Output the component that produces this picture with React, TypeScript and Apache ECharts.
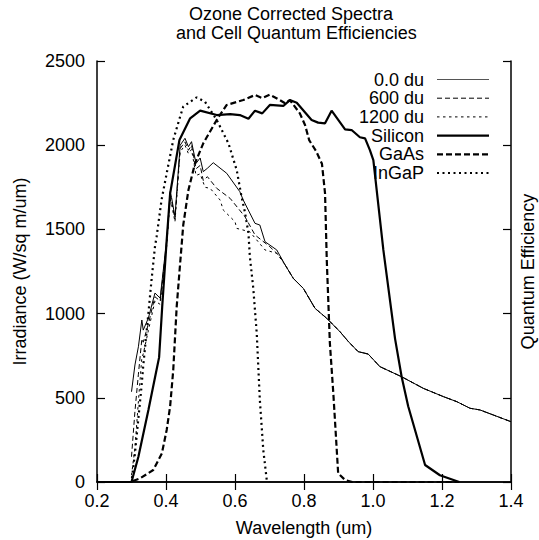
import React, { useEffect, useRef } from "react";
import * as echarts from "echarts";

// ---- Data ----
const seriesNames = ["0.0 du", "600 du", "1200 du", "Silicon", "GaAs", "InGaP"];

const du0Wave = [0.3, 0.31, 0.32, 0.33, 0.334, 0.349, 0.368, 0.383, 0.402, 0.412, 0.416, 0.426, 0.441, 0.455, 0.465, 0.474, 0.487, 0.499, 0.508, 0.52, 0.537, 0.576, 0.614, 0.624, 0.658, 0.672, 0.687, 0.721, 0.745, 0.769, 0.798, 0.832, 0.866, 0.904, 0.929, 0.957, 0.986, 1.02, 1.083, 1.146, 1.204, 1.243, 1.281, 1.31, 1.4];
const du0Irr = [536, 695, 803, 962, 902, 974, 1122, 1092, 1437, 1724, 1690, 1575, 2000, 2041, 1991, 2021, 1892, 1924, 1843, 1863, 1896, 1833, 1724, 1674, 1536, 1526, 1427, 1378, 1290, 1209, 1150, 1031, 972, 893, 833, 774, 760, 685, 625, 556, 507, 477, 438, 428, 358];

const du600Wave = [0.3, 0.31, 0.32, 0.33, 0.334, 0.349, 0.368, 0.383, 0.402, 0.412, 0.416, 0.426, 0.441, 0.455, 0.465, 0.474, 0.487, 0.499, 0.508, 0.52, 0.547, 0.586, 0.629, 0.658, 0.701, 0.73, 0.745, 0.769, 0.798, 0.832, 0.866, 0.904, 0.929, 0.957, 0.986, 1.02, 1.083, 1.146, 1.204, 1.243, 1.281, 1.31, 1.4];
const du600Irr = [150, 420, 640, 850, 830, 940, 1100, 1075, 1420, 1700, 1670, 1560, 1980, 2020, 1970, 2000, 1860, 1880, 1790, 1813, 1744, 1684, 1575, 1467, 1397, 1340, 1290, 1209, 1150, 1031, 972, 893, 833, 774, 760, 685, 625, 556, 507, 477, 438, 428, 358];

const du1200Wave = [0.3, 0.31, 0.32, 0.33, 0.334, 0.349, 0.368, 0.383, 0.402, 0.412, 0.416, 0.426, 0.441, 0.455, 0.465, 0.474, 0.487, 0.499, 0.513, 0.528, 0.557, 0.566, 0.6, 0.605, 0.643, 0.687, 0.721, 0.745, 0.769, 0.798, 0.832, 0.866, 0.904, 0.929, 0.957, 0.986, 1.02, 1.083, 1.146, 1.204, 1.243, 1.281, 1.31, 1.4];
const du1200Irr = [40, 200, 480, 740, 760, 900, 1075, 1055, 1400, 1680, 1650, 1545, 1960, 2000, 1950, 1975, 1820, 1830, 1750, 1744, 1674, 1615, 1546, 1506, 1486, 1378, 1358, 1290, 1209, 1150, 1031, 972, 893, 833, 774, 760, 685, 625, 556, 507, 477, 438, 428, 358];

const siWave = [0.2, 0.3, 0.32, 0.349, 0.37, 0.38, 0.389, 0.402, 0.412, 0.439, 0.47, 0.499, 0.547, 0.586, 0.614, 0.639, 0.658, 0.679, 0.701, 0.74, 0.759, 0.779, 0.822, 0.841, 0.861, 0.88, 0.919, 0.938, 0.962, 0.977, 0.991, 1.001, 1.03, 1.064, 1.083, 1.102, 1.151, 1.194, 1.25];
const siQE = [0, 0, 150, 428, 640, 740, 1041, 1437, 1714, 2031, 2160, 2205, 2179, 2185, 2179, 2157, 2205, 2189, 2239, 2233, 2268, 2252, 2150, 2134, 2130, 2205, 2094, 2090, 2047, 2041, 1971, 1912, 1378, 850, 625, 450, 101, 40, 0];

const gaasWave = [0.2, 0.296, 0.325, 0.363, 0.388, 0.402, 0.412, 0.421, 0.431, 0.441, 0.45, 0.465, 0.484, 0.508, 0.547, 0.576, 0.624, 0.658, 0.679, 0.701, 0.73, 0.745, 0.759, 0.788, 0.803, 0.815, 0.835, 0.852, 0.861, 0.866, 0.875, 0.885, 0.899, 0.919, 0.94, 1.25];
const gaasQE = [0, 0, 22, 71, 170, 309, 450, 665, 1041, 1299, 1526, 1734, 1892, 2011, 2150, 2239, 2268, 2298, 2280, 2300, 2268, 2249, 2268, 2189, 2120, 2030, 1965, 1890, 1714, 1318, 824, 527, 52, 12, 0, 0];

const ingapWave = [0.2, 0.3, 0.31, 0.32, 0.329, 0.334, 0.349, 0.358, 0.368, 0.373, 0.387, 0.402, 0.421, 0.441, 0.45, 0.489, 0.513, 0.547, 0.581, 0.605, 0.619, 0.629, 0.639, 0.643, 0.653, 0.663, 0.672, 0.682, 0.692, 0.7];
const ingapQE = [0, 0, 170, 380, 566, 690, 1002, 1199, 1397, 1460, 1674, 1833, 2031, 2170, 2229, 2284, 2258, 2150, 2011, 1852, 1694, 1600, 1477, 1340, 1150, 883, 487, 190, 12, 0];

const xTicks = { min: 0.2, max: 1.4, interval: 0.2 };
const yTicks = { min: 0, max: 2500, interval: 500 };

const zip = (xs: number[], ys: number[]) => xs.map((x, i) => [x, ys[i]]);

const FONT = "Liberation Sans, Arial, Helvetica, sans-serif";

// line styles per series: [width, dash]
const styles: [number, number[] | null][] = [
  [1, null],
  [1, [5, 3]],
  [1, [2.5, 3.5]],
  [2.2, null],
  [2.2, [6, 3]],
  [2.2, [2, 3.5]],
];

export default function App() {
  const ref = useRef<HTMLDivElement>(null);
  useEffect(() => {
    if (!ref.current) return;
    const chart = echarts.init(ref.current, undefined, { renderer: "svg" });
    const axisLine = { show: true, lineStyle: { color: "#000", width: 1.5 } };
    const axisTick = { show: true, inside: true, length: 8, lineStyle: { color: "#000", width: 1.2 } };
    const mk = (idx: number, xs: number[], ys: number[], yAxisIndex: number) => {
      const [width, dash] = styles[idx];
      return {
        name: seriesNames[idx],
        type: "line",
        yAxisIndex,
        data: zip(xs, ys),
        symbol: "none",
        showSymbol: false,
        itemStyle: { color: "#000" },
        lineStyle: { color: "#000", width, type: dash ? dash : "solid", cap: "butt" },
      };
    };
    const legendItems: any[] = [];
    seriesNames.forEach((name, i) => {
      const y = 79.5 + 18.7 * i;
      const [width, dash] = styles[i];
      legendItems.push({
        type: "text",
        x: 424,
        y,
        style: {
          text: name,
          align: "right",
          verticalAlign: "middle",
          fontSize: 18,
          fontFamily: FONT,
          fill: "#000",
        },
      });
      legendItems.push({
        type: "line",
        shape: { x1: 437, y1: y, x2: 489, y2: y },
        style: { stroke: i === 0 ? "#555" : "#000", lineWidth: width, lineDash: dash || null },
      });
    });
    chart.setOption({
      animation: false,
      textStyle: { fontFamily: FONT, color: "#000" },
      title: [
        {
          text: "Ozone Corrected Spectra",
          left: 189,
          top: 5,
          padding: 0,
          textStyle: { fontSize: 18, fontWeight: "normal", color: "#000", fontFamily: FONT },
        },
        {
          text: "and Cell Quantum Efficiencies",
          left: 176,
          top: 24,
          padding: 0,
          textStyle: { fontSize: 18, fontWeight: "normal", color: "#000", fontFamily: FONT },
        },
      ],
      grid: { left: 97, top: 61, right: 28, bottom: 58, containLabel: false, outerBoundsMode: "none" },
      graphic: legendItems,
      xAxis: [
        {
          type: "value",
          position: "bottom",
          ...xTicks,
          axisLine,
          axisTick,
          splitLine: { show: false },
          axisLabel: {
            fontSize: 18,
            color: "#000",
            margin: 10,
            fontFamily: FONT,
            formatter: (v: number) => v.toFixed(1),
          },
          name: "Wavelength (um)",
          nameLocation: "middle",
          nameGap: 37,
          nameTextStyle: { fontSize: 18, color: "#000", fontFamily: FONT },
        },
        {
          type: "value",
          position: "top",
          ...xTicks,
          axisLine,
          axisTick,
          splitLine: { show: false },
          axisLabel: { show: false },
        },
      ],
      yAxis: [
        {
          type: "value",
          position: "left",
          ...yTicks,
          axisLine,
          axisTick,
          splitLine: { show: false },
          axisLabel: {
            fontSize: 18,
            color: "#000",
            margin: 12,
            fontFamily: FONT,
            formatter: (v: number) => String(v),
          },
          name: "Irradiance (W/sq m/um)",
          nameLocation: "middle",
          nameGap: 68,
          nameTextStyle: { fontSize: 18, color: "#000", fontFamily: FONT },
        },
        {
          type: "value",
          position: "right",
          ...yTicks,
          axisLine,
          axisTick,
          splitLine: { show: false },
          axisLabel: { show: false },
          name: "Quantum Efficiency",
          nameLocation: "middle",
          nameGap: 8,
          nameRotate: 90,
          nameTextStyle: { fontSize: 18, color: "#000", fontFamily: FONT, verticalAlign: "top", lineHeight: 18 },
        },
      ],
      series: [
        mk(0, du0Wave, du0Irr, 0),
        mk(1, du600Wave, du600Irr, 0),
        mk(2, du1200Wave, du1200Irr, 0),
        mk(3, siWave, siQE, 1),
        mk(4, gaasWave, gaasQE, 1),
        mk(5, ingapWave, ingapQE, 1),
      ],
    });
    return () => chart.dispose();
  }, []);
  return (
    <div
      ref={ref}
      style={{ position: "absolute", left: 0, top: 0, width: 539, height: 540, background: "#fff" }}
    />
  );
}
